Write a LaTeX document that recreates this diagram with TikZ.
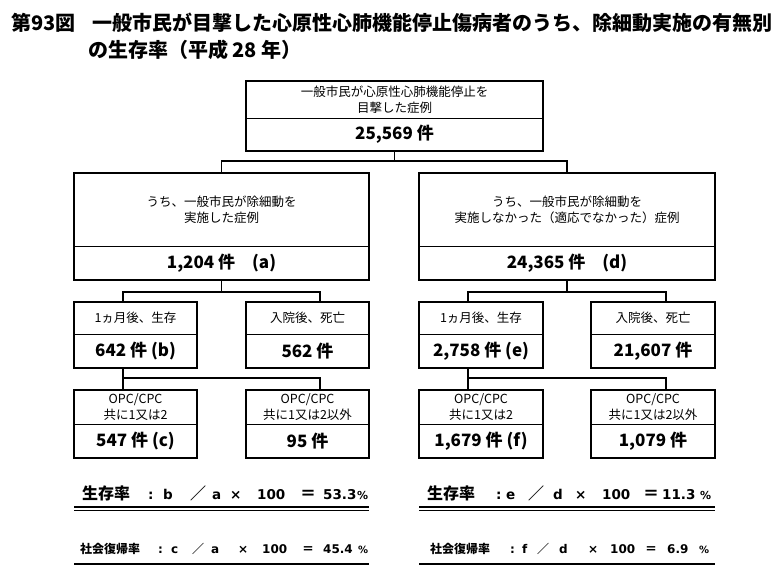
\documentclass[tikz,border=0pt]{standalone}
\usepackage{fontspec}
\setmainfont{Noto Sans CJK JP}
\newfontfamily\dv{DejaVu Sans}
\usetikzlibrary{calc}
\newcommand\tk[2]{\makebox[0pt][l]{\hspace*{#1pt}#2}}
\newcommand\la{\dv\bfseries}
\newcommand\lA{\dv\bfseries\fontsize{13.5}{16}\selectfont}
\tikzset{
  x=1pt, y=-1pt,
  lbl/.style={draw, line width=0.8pt, inner sep=0pt, outer sep=0pt, align=center,
    font=\fontsize{12.5}{16}\selectfont},
  num/.style={draw, line width=0.8pt, inner sep=0pt, outer sep=0pt, align=center,
    font=\fontsize{17}{20}\selectfont\bfseries},
  frame/.style={line width=2pt},
  conn/.style={line width=1.8pt},
  fA/.style={inner sep=0pt, anchor=west, font=\fontsize{16}{18}\selectfont\bfseries},
  fB/.style={inner sep=0pt, anchor=west, font=\fontsize{12}{14}\selectfont\bfseries},
  ttl/.style={inner sep=0pt, anchor=west, font=\fontsize{20}{24}\selectfont\bfseries},
}
\begin{document}
\begin{tikzpicture}
\fill[white] (0,0) rectangle (784,584);
\useasboundingbox (0,0) rectangle (784,584);

% title
\node[ttl] (t1) at (11,23) {第93図\hspace{17pt}一般市民が目撃した心原性心肺機能停止傷病者のうち、除細動実施の有無別};
\node[ttl] (t2) at (88,50) {の生存率（平成 28 年）};

% top box
\node[lbl, minimum width=297pt, minimum height=37pt, anchor=north] (topT) at (394.5,81) {一般市民が心原性心肺機能停止を\\目撃した症例};
\node[num, minimum width=297pt, minimum height=33pt, anchor=north] (topN) at (topT.south) {25,569 件};

% middle boxes
\node[lbl, minimum width=295pt, minimum height=73pt, anchor=north] (lmT) at (221.5,173) {うち、一般市民が除細動を\\実施した症例};
\node[num, minimum width=295pt, minimum height=34pt, anchor=north] (lmN) at (lmT.south) {1,204 件　(a)};
\node[lbl, minimum width=296pt, minimum height=73pt, anchor=north] (rmT) at (567,173) {うち、一般市民が除細動を\\実施しなかった（適応でなかった）症例};
\node[num, minimum width=296pt, minimum height=34pt, anchor=north] (rmN) at (rmT.south) {24,365 件　(d)};

% row 1
\node[lbl, minimum width=123pt, minimum height=32pt, anchor=north] (a1T) at (135.5,302) {1ヵ月後、生存};
\node[num, minimum width=123pt, minimum height=34pt, anchor=north] (a1N) at (a1T.south) {642 件 (b)};
\node[lbl, minimum width=123pt, minimum height=32pt, anchor=north] (b1T) at (307.5,302) {入院後、死亡};
\node[num, minimum width=123pt, minimum height=34pt, anchor=north] (b1N) at (b1T.south) {562 件};
\node[lbl, minimum width=124pt, minimum height=32pt, anchor=north] (c1T) at (481,302) {1ヵ月後、生存};
\node[num, minimum width=124pt, minimum height=34pt, anchor=north] (c1N) at (c1T.south) {2,758 件 (e)};
\node[lbl, minimum width=124pt, minimum height=32pt, anchor=north] (d1T) at (653,302) {入院後、死亡};
\node[num, minimum width=124pt, minimum height=34pt, anchor=north] (d1N) at (d1T.south) {21,607 件};

% row 2
\node[lbl, minimum width=123pt, minimum height=34pt, anchor=north] (a2T) at (135.5,390) {OPC/CPC\\共に1又は2};
\node[num, minimum width=123pt, minimum height=34pt, anchor=north] (a2N) at (a2T.south) {547 件 (c)};
\node[lbl, minimum width=123pt, minimum height=34pt, anchor=north] (b2T) at (307.5,390) {OPC/CPC\\共に1又は2以外};
\node[num, minimum width=123pt, minimum height=34pt, anchor=north] (b2N) at (b2T.south) {95 件};
\node[lbl, minimum width=124pt, minimum height=34pt, anchor=north] (c2T) at (481,390) {OPC/CPC\\共に1又は2};
\node[num, minimum width=124pt, minimum height=34pt, anchor=north] (c2N) at (c2T.south) {1,679 件 (f)};
\node[lbl, minimum width=124pt, minimum height=34pt, anchor=north] (d2T) at (653,390) {OPC/CPC\\共に1又は2以外};
\node[num, minimum width=124pt, minimum height=34pt, anchor=north] (d2N) at (d2T.south) {1,079 件};

% connectors
\draw[conn] (topN.south) -- ++(0,10) coordinate (j0);
\draw[conn] (lmT.north) |- (j0) -| (rmT.north);
\draw[conn] (lmN.south) -- ++(0,12) coordinate (j1);
\draw[conn] ($(a1T.north west)+(49,0)$) |- (j1) -| ($(b1T.north east)+(-49,0)$);
\draw[conn] (rmN.south) -- ++(0,12) coordinate (j2);
\draw[conn] ($(c1T.north west)+(49,0)$) |- (j2) -| ($(d1T.north east)+(-49,0)$);
\draw[conn] ($(a1N.south west)+(49,0)$) -- ($(a2T.north west)+(49,0)$);
\draw[conn] ($(a1N.south west)+(49,10)$) -| ($(b2T.north east)+(-49,0)$);
\draw[conn] ($(c1N.south west)+(49,0)$) -- ($(c2T.north west)+(49,0)$);
\draw[conn] ($(c1N.south west)+(49,10)$) -| ($(d2T.north east)+(-49,0)$);

% frames
\foreach \u/\l in {topT/topN, lmT/lmN, rmT/rmN, a1T/a1N, b1T/b1N, c1T/c1N, d1T/d1N, a2T/a2N, b2T/b2N, c2T/c2N, d2T/d2N}
  \draw[frame] (\u.north west) rectangle (\l.south east);

% formulas
\node[fA] (fl1) at (82,493) {\tk{0}{生存率}\tk{66}{\lA :}\tk{81}{\lA b}\tk{108}{／}\tk{130}{\lA a}\tk{148}{\lA ×}\tk{175}{\lA 100}\tk{218}{＝}\tk{241}{\lA 53.3}\tk{275}{\la\fontsize{11}{14}\selectfont \%}\hspace*{282pt}};
\node[fA] (fr1) at (427,493) {\tk{0}{生存率}\tk{69}{\lA :}\tk{79}{\lA e}\tk{101}{／}\tk{126}{\lA d}\tk{148}{\lA ×}\tk{175}{\lA 100}\tk{216}{＝}\tk{235}{\lA 11.3}\tk{273}{\la\fontsize{11}{14}\selectfont \%}\hspace*{282pt}};
\node[fB] (fl2) at (80,549) {\tk{0}{社会復帰率}\tk{78}{\la :}\tk{91}{\la c}\tk{112}{／}\tk{131}{\la a}\tk{158}{\la ×}\tk{182}{\la 100}\tk{222}{＝}\tk{243}{\la 45.4}\tk{278}{\la\fontsize{10}{12}\selectfont \%}\hspace*{285pt}};
\node[fB] (fr2) at (430,549) {\tk{0}{社会復帰率}\tk{80}{\la :}\tk{92}{\la f}\tk{107}{／}\tk{129}{\la d}\tk{158}{\la ×}\tk{180}{\la 100}\tk{215}{＝}\tk{237}{\la 6.9}\tk{269}{\la\fontsize{10}{12}\selectfont \%}\hspace*{280pt}};

% underlines
\draw[line width=1.3pt] (a2N.west |- 0,507) -- (b2N.east |- 0,507);
\draw[line width=1.3pt] (a2N.west |- 0,510.5) -- (b2N.east |- 0,510.5);
\draw[line width=1.3pt] (c2N.west |- 0,507) -- (d2N.east |- 0,507);
\draw[line width=1.3pt] (c2N.west |- 0,510.5) -- (d2N.east |- 0,510.5);
\draw[line width=2.2pt] (a2N.west |- 0,564) -- (b2N.east |- 0,564);
\draw[line width=2.2pt] (c2N.west |- 0,564) -- (d2N.east |- 0,564);
\end{tikzpicture}
\end{document}
